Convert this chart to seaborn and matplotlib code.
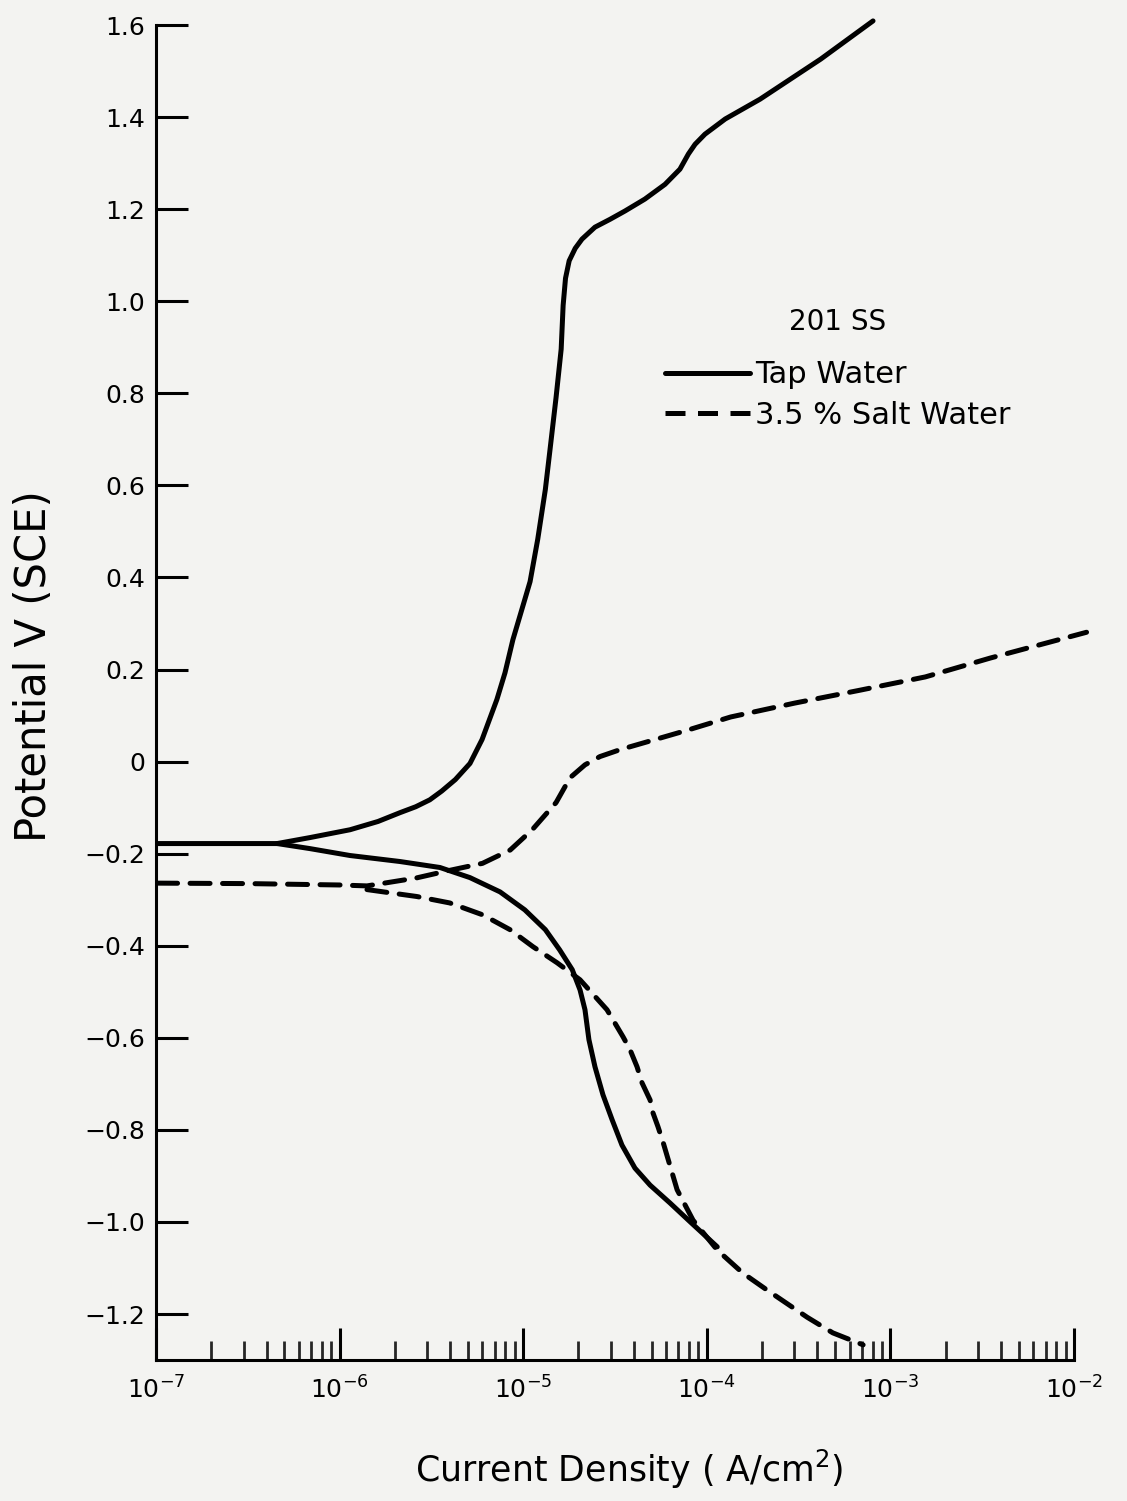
import numpy as np
import pandas as pd
import matplotlib
matplotlib.use("Agg")
import matplotlib.pyplot as plt
import seaborn as sns
from matplotlib.ticker import FixedLocator, FixedFormatter, LogLocator, NullFormatter
from matplotlib.lines import Line2D

# ---------------- data ----------------
tap_anodic_i = [1.02e-7, 2.51e-7, 4.57e-7, 6.9e-7, 1.14e-6, 1.62e-6, 2.13e-6, 2.6e-6,
                3.1e-6, 3.6e-6, 4.27e-6, 5.13e-6, 5.97e-6, 7.19e-6, 7.96e-6, 8.79e-6,
                1.02e-5, 1.09e-5, 1.20e-5, 1.32e-5, 1.40e-5, 1.51e-5, 1.61e-5, 1.65e-5,
                1.70e-5, 1.78e-5, 1.92e-5, 2.09e-5, 2.46e-5, 2.97e-5, 3.58e-5, 4.60e-5,
                5.92e-5, 7.14e-5, 7.94e-5, 8.63e-5, 9.77e-5, 1.26e-4, 1.95e-4, 4.17e-4,
                8.04e-4]
tap_anodic_v = [-0.178, -0.178, -0.178, -0.165, -0.148, -0.130, -0.111, -0.098,
                -0.083, -0.064, -0.039, -0.004, 0.048, 0.135, 0.193, 0.265,
                0.352, 0.391, 0.483, 0.591, 0.678, 0.791, 0.896, 0.991,
                1.050, 1.088, 1.115, 1.135, 1.161, 1.178, 1.196, 1.222,
                1.254, 1.287, 1.320, 1.341, 1.363, 1.396, 1.439, 1.526,
                1.609]

tap_cathodic_i = [4.57e-7, 6.9e-7, 1.14e-6, 2.13e-6, 3.52e-6, 5.13e-6, 7.48e-6, 1.02e-5,
                  1.32e-5, 1.58e-5, 1.85e-5, 2.04e-5, 2.17e-5, 2.28e-5, 2.46e-5, 2.72e-5,
                  3.05e-5, 3.45e-5, 4.06e-5, 4.91e-5, 6.31e-5, 8.13e-5, 1.14e-4]
tap_cathodic_v = [-0.178, -0.189, -0.204, -0.217, -0.230, -0.252, -0.283, -0.322,
                  -0.365, -0.409, -0.452, -0.496, -0.539, -0.604, -0.663, -0.724,
                  -0.778, -0.833, -0.883, -0.920, -0.959, -1.000, -1.054]

salt_anodic_i = [1.02e-7, 3.2e-7, 1.0e-6, 1.41e-6, 2.6e-6, 4.0e-6, 6.0e-6, 8.5e-6,
                 1.12e-5, 1.51e-5, 1.80e-5, 2.17e-5, 2.62e-5, 3.37e-5, 4.55e-5, 7.8e-5,
                 1.35e-4, 3.0e-4, 6.8e-4, 1.55e-3, 3.5e-3, 1.17e-2]
salt_anodic_v = [-0.264, -0.265, -0.268, -0.270, -0.253, -0.236, -0.221, -0.192,
                 -0.148, -0.089, -0.035, -0.007, 0.011, 0.026, 0.041, 0.068,
                 0.097, 0.127, 0.155, 0.184, 0.225, 0.281]

salt_cathodic_i = [1.41e-6, 2.63e-6, 3.98e-6, 6.03e-6, 8.47e-6, 1.13e-5, 1.53e-5, 2.04e-5,
                   2.86e-5, 3.5e-5, 3.82e-5, 4.17e-5, 4.44e-5, 4.91e-5, 5.09e-5, 5.42e-5,
                   5.77e-5, 6.89e-5, 8.41e-5, 1.14e-4, 1.57e-4, 2.13e-4, 3.52e-4, 4.86e-4,
                   7.1e-4]
salt_cathodic_v = [-0.278, -0.293, -0.307, -0.333, -0.365, -0.402, -0.437, -0.474,
                   -0.539, -0.598, -0.626, -0.663, -0.698, -0.735, -0.763, -0.793,
                   -0.826, -0.930, -0.996, -1.061, -1.111, -1.148, -1.207, -1.241,
                   -1.267]

series_names = ["Tap Water", "3.5 % Salt Water"]
legend_title = "201 SS"

y_ticks = [-1.2, -1.0, -0.8, -0.6, -0.4, -0.2, 0.0, 0.2, 0.4, 0.6, 0.8, 1.0, 1.2, 1.4, 1.6]
y_ticklabels = ["\u22121.2", "\u22121.0", "\u22120.8", "\u22120.6", "\u22120.4", "\u22120.2",
                "0", "0.2", "0.4", "0.6", "0.8", "1.0", "1.2", "1.4", "1.6"]
x_ticks = [1e-7, 1e-6, 1e-5, 1e-4, 1e-3, 1e-2]
x_ticklabels = [r"$10^{-7}$", r"$10^{-6}$", r"$10^{-5}$", r"$10^{-4}$", r"$10^{-3}$", r"$10^{-2}$"]

x_label = "Current Density ( A/cm$^{2}$)"
y_label = "Potential V (SCE)"

# ---------------- table ----------------
frames = []
for name, unit, xi, yv in [
    (series_names[0], "tap_anodic", tap_anodic_i, tap_anodic_v),
    (series_names[0], "tap_cathodic", tap_cathodic_i, tap_cathodic_v),
    (series_names[1], "salt_anodic", salt_anodic_i, salt_anodic_v),
    (series_names[1], "salt_cathodic", salt_cathodic_i, salt_cathodic_v),
]:
    frames.append(pd.DataFrame({"current": xi, "potential": yv,
                                "solution": name, "branch": unit}))
df = pd.concat(frames, ignore_index=True)

# ---------------- style ----------------
sns.set_theme(style="ticks")
plt.rcParams['font.family'] = ['DejaVu Sans']
plt.rcParams['text.color'] = 'black'
plt.rcParams['axes.labelcolor'] = 'black'
bg = "#f3f3f1"
plt.rcParams['axes.facecolor'] = bg
plt.rcParams['figure.facecolor'] = bg

fig = plt.figure(figsize=(11.27, 15.01), dpi=100)
ax = fig.add_axes([0.1384, 0.0939, 0.8146, 0.8894])
ax.set_facecolor(bg)

LW = 3.6
DASH = (4, 2.5)
sns.lineplot(data=df, x="current", y="potential", style="solution", units="branch",
             estimator=None, sort=False, color="black", linewidth=LW,
             dashes={series_names[0]: "", series_names[1]: DASH},
             legend=False, ax=ax, clip_on=False)
for ln in ax.lines:
    ln.set_solid_capstyle("round")
    ln.set_solid_joinstyle("round")
    ln.set_dash_capstyle("round")

ax.set_xscale("log")
ax.set_xlim(1e-7, 1e-2)
ax.set_ylim(-1.3, 1.6)

for s in ["top", "right"]:
    ax.spines[s].set_visible(False)
for s in ["left", "bottom"]:
    ax.spines[s].set_linewidth(2.2)
    ax.spines[s].set_color("black")

ax.yaxis.set_major_locator(FixedLocator(y_ticks))
ax.yaxis.set_major_formatter(FixedFormatter(y_ticklabels))
ax.xaxis.set_major_locator(FixedLocator(x_ticks))
ax.xaxis.set_major_formatter(FixedFormatter(x_ticklabels))
ax.xaxis.set_minor_locator(LogLocator(base=10, subs=np.arange(2, 10), numticks=30))
ax.xaxis.set_minor_formatter(NullFormatter())

ax.tick_params(axis="y", which="major", direction="in", length=23, width=2.2,
               pad=8, labelsize=18, colors="black")
ax.tick_params(axis="x", which="major", direction="in", length=23, width=2.2,
               pad=12, labelsize=18, colors="black")
ax.tick_params(axis="x", which="minor", direction="in", length=14, width=2.0)

ax.set_xlabel(x_label, fontsize=25, color="black")
ax.set_ylabel(y_label, fontsize=30, color="black")
ax.xaxis.set_label_coords(0.516, -0.066)
ax.yaxis.set_label_coords(-0.110, 0.52)
ax.grid(False)

handles = [Line2D([], [], color="black", lw=LW),
           Line2D([], [], color="black", lw=LW, dashes=DASH)]
leg = ax.legend(handles, series_names, title=legend_title, loc="upper left",
                bbox_to_anchor=(0.5545, 0.788), frameon=False, fontsize=22,
                title_fontsize=20, handlelength=2.78, handletextpad=0.16,
                labelspacing=0.37, borderpad=0, borderaxespad=0,
                labelcolor="black")
leg.get_title().set_color("black")
leg._legend_box.align = "center"
leg._legend_box.sep = 17.5

fig.savefig("out.png", dpi=100, facecolor=bg)
